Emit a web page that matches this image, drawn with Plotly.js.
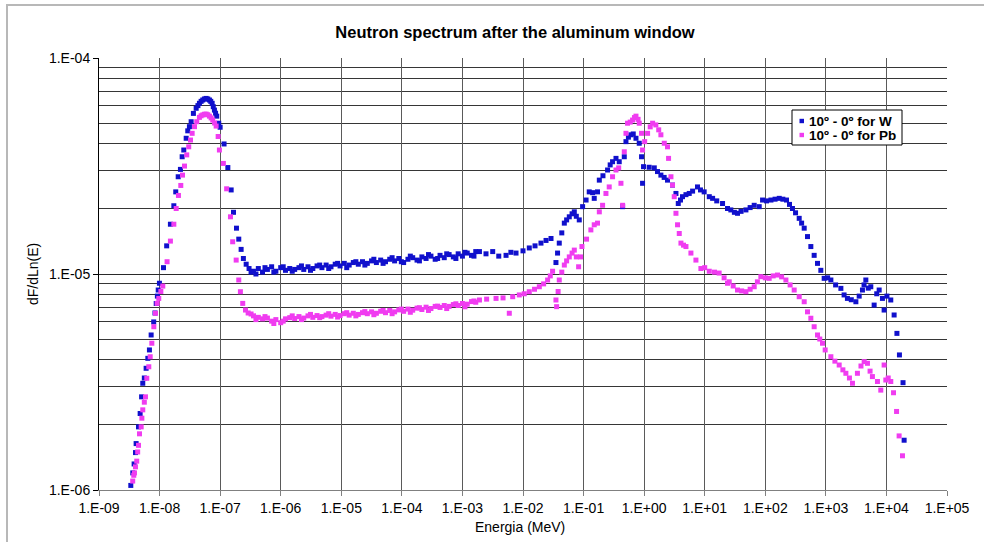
<!DOCTYPE html>
<html><head><meta charset="utf-8">
<script src="https://cdn.plot.ly/plotly-3.0.1.min.js"></script>
<style>
html,body{margin:0;padding:0;background:#fff;overflow:hidden;}
#frame{position:absolute;left:6px;top:4px;width:1200px;height:800px;border-left:2px solid #b8b8b8;border-top:2px solid #b8b8b8;}
#chart{position:absolute;left:0;top:0;width:984px;height:542px;}
</style></head><body>
<div id="frame"></div><div id="chart"></div>
<script>
// ---- tick labels ----
const xTickVals = [1e-9,1e-8,1e-7,1e-6,1e-5,1e-4,1e-3,1e-2,1e-1,1e0,1e1,1e2,1e3,1e4,1e5];
const xTickText = ['1.E-09','1.E-08','1.E-07','1.E-06','1.E-05','1.E-04','1.E-03','1.E-02','1.E-01','1.E+00','1.E+01','1.E+02','1.E+03','1.E+04','1.E+05'];
const yTickVals = [1e-6,1e-5,1e-4];
const yTickText = ['1.E-06','1.E-05','1.E-04'];
const yMinorVals = [2e-6,3e-6,4e-6,5e-6,6e-6,7e-6,8e-6,9e-6,2e-5,3e-5,4e-5,5e-5,6e-5,7e-5,8e-5,9e-5];

// ---- series: 10º - 0º for W ----
const wEnergy = [
3.35e-9,3.61e-9,3.80e-9,4.00e-9,4.10e-9,4.49e-9,4.78e-9,5.05e-9,5.28e-9,5.60e-9,6.00e-9,6.40e-9,6.80e-9,7.26e-9,8.00e-9,8.40e-9,8.80e-9,9.20e-9,9.50e-9,9.95e-9,
1.16e-8,1.31e-8,1.51e-8,1.72e-8,1.85e-8,2.03e-8,2.21e-8,2.36e-8,2.51e-8,2.75e-8,2.92e-8,3.11e-8,3.32e-8,3.62e-8,4.02e-8,4.30e-8,4.55e-8,4.85e-8,5.16e-8,5.50e-8,5.87e-8,6.25e-8,6.66e-8,7.00e-8,7.38e-8,7.70e-8,8.05e-8,8.40e-8,8.79e-8,9.48e-8,
1.00e-7,1.16e-7,1.34e-7,1.52e-7,1.66e-7,1.86e-7,2.03e-7,2.22e-7,2.42e-7,2.69e-7,3.00e-7,3.24e-7,
3.55e-7,4.27e-7,5.01e-7,6.03e-7,7.08e-7,8.32e-7,1.00e-6,1.20e-6,1.41e-6,1.70e-6,2.00e-6,2.40e-6,2.82e-6,3.39e-6,3.98e-6,4.79e-6,5.62e-6,6.76e-6,7.94e-6,9.55e-6,
1.12e-5,1.35e-5,1.58e-5,1.91e-5,2.24e-5,2.69e-5,3.16e-5,3.80e-5,4.47e-5,5.37e-5,6.31e-5,7.59e-5,8.91e-5,1.07e-4,1.26e-4,1.51e-4,1.78e-4,2.14e-4,2.51e-4,3.02e-4,
3.55e-4,4.27e-4,5.01e-4,6.03e-4,7.08e-4,8.51e-4,1.00e-3,1.20e-3,1.41e-3,1.66e-3,
1.91e-3,2.45e-3,3.16e-3,3.98e-3,5.25e-3,6.31e-3,7.67e-3,1.00e-2,1.27e-2,1.58e-2,1.98e-2,2.40e-2,2.90e-2,3.50e-2,3.72e-2,3.97e-2,4.37e-2,4.81e-2,5.25e-2,5.81e-2,
6.46e-2,7.03e-2,7.59e-2,8.49e-2,9.64e-2,0.110,0.124,0.141,0.150,0.170,0.182,0.209,0.249,0.275,0.301,0.343,0.388,0.441,0.470,0.501,
0.550,0.605,0.661,0.733,0.830,0.906,0.942,0.977,1.21,1.47,1.66,1.89,2.14,2.43,2.94,3.35,3.66,3.98,4.30,4.90,
5.55,6.31,7.60,8.51,9.79,11.9,13.5,15.8,19.7,23.8,27.0,30.9,34.8,39.8,47.9,56.2,65.6,79.4,90.2,105,
124,145,170,195,224,251,281,316,363,398,439,498,565,641,728,826,938,1070,1210,1450,
1770,2000,2270,2630,3130,3550,4020,4270,4570,5010,5520,6270,6920,7590,8590,9160,10200,11800,13400,14900,
16400,18800,19600,
3.9e-7,5.5e-7,7.7e-7,1.1e-6,1.55e-6,2.2e-6,3.1e-6,4.4e-6,6.2e-6,8.7e-6,1.23e-5,1.74e-5,2.45e-5,3.45e-5,4.9e-5,6.9e-5,9.8e-5,1.38e-4,1.95e-4,2.75e-4,
3.9e-4,5.5e-4,7.8e-4,1.1e-3,1.55e-3];
const wFlux = [
1.05e-6,1.20e-6,1.32e-6,1.49e-6,1.64e-6,1.96e-6,2.26e-6,2.70e-6,3.12e-6,3.30e-6,3.66e-6,4.07e-6,4.45e-6,5.22e-6,6.00e-6,6.60e-6,7.30e-6,7.90e-6,8.43e-6,9.06e-6,
1.07e-5,1.35e-5,1.70e-5,2.07e-5,2.40e-5,2.82e-5,3.05e-5,3.49e-5,3.75e-5,4.25e-5,4.60e-5,4.81e-5,5.07e-5,5.54e-5,5.85e-5,6.02e-5,6.17e-5,6.30e-5,6.39e-5,6.46e-5,6.50e-5,6.46e-5,6.39e-5,6.30e-5,6.17e-5,5.95e-5,5.74e-5,5.55e-5,5.38e-5,4.99e-5,
4.78e-5,4.00e-5,3.11e-5,2.45e-5,1.93e-5,1.63e-5,1.45e-5,1.30e-5,1.18e-5,1.11e-5,1.06e-5,1.02e-5,
1.03e-5,1.06e-5,1.02e-5,1.05e-5,1.08e-5,1.03e-5,1.07e-5,1.04e-5,1.06e-5,1.05e-5,1.07e-5,1.05e-5,1.08e-5,1.06e-5,1.09e-5,1.07e-5,1.10e-5,1.08e-5,1.11e-5,1.09e-5,
1.12e-5,1.10e-5,1.13e-5,1.11e-5,1.14e-5,1.12e-5,1.15e-5,1.13e-5,1.16e-5,1.14e-5,1.17e-5,1.15e-5,1.18e-5,1.13e-5,1.17e-5,1.19e-5,1.16e-5,1.20e-5,1.18e-5,1.21e-5,
1.17e-5,1.22e-5,1.19e-5,1.23e-5,1.20e-5,1.24e-5,1.21e-5,1.25e-5,1.22e-5,1.27e-5,
1.27e-5,1.24e-5,1.27e-5,1.21e-5,1.22e-5,1.26e-5,1.25e-5,1.28e-5,1.32e-5,1.35e-5,1.39e-5,1.43e-5,1.46e-5,1.13e-5,1.25e-5,1.39e-5,1.55e-5,1.72e-5,1.78e-5,1.84e-5,
1.90e-5,1.94e-5,1.85e-5,1.78e-5,2.05e-5,2.20e-5,2.40e-5,2.38e-5,2.24e-5,2.40e-5,2.72e-5,2.85e-5,3.03e-5,3.20e-5,3.31e-5,3.43e-5,3.31e-5,2.05e-5,3.49e-5,4.10e-5,
4.30e-5,4.41e-5,4.45e-5,4.25e-5,4.03e-5,3.49e-5,2.63e-5,3.14e-5,3.12e-5,3.10e-5,2.98e-5,2.87e-5,2.80e-5,2.72e-5,2.58e-5,2.36e-5,2.12e-5,2.20e-5,2.28e-5,2.33e-5,
2.36e-5,2.42e-5,2.53e-5,2.45e-5,2.40e-5,2.28e-5,2.24e-5,2.18e-5,2.12e-5,2.01e-5,1.98e-5,1.93e-5,1.91e-5,1.95e-5,1.98e-5,2.03e-5,2.08e-5,2.05e-5,2.20e-5,2.18e-5,
2.20e-5,2.22e-5,2.24e-5,2.22e-5,2.20e-5,2.10e-5,2.01e-5,1.92e-5,1.81e-5,1.72e-5,1.63e-5,1.49e-5,1.34e-5,1.22e-5,1.12e-5,1.04e-5,9.55e-6,9.60e-6,9.38e-6,8.90e-6,
8.58e-6,8.00e-6,7.71e-6,7.60e-6,7.44e-6,7.90e-6,8.43e-6,8.90e-6,9.38e-6,8.60e-6,8.73e-6,7.18e-6,8.10e-6,8.43e-6,7.71e-6,6.81e-6,7.90e-6,7.58e-6,6.46e-6,5.31e-6,
4.22e-6,3.14e-6,1.70e-6,
1.00e-5,1.07e-5,1.02e-5,1.08e-5,1.03e-5,1.09e-5,1.04e-5,1.10e-5,1.06e-5,1.12e-5,1.07e-5,1.14e-5,1.10e-5,1.17e-5,1.12e-5,1.19e-5,1.14e-5,1.21e-5,1.15e-5,1.23e-5,
1.18e-5,1.24e-5,1.18e-5,1.26e-5,1.21e-5];

// ---- series: 10º - 0º for Pb ----
const pbEnergy = [
3.60e-9,3.75e-9,3.85e-9,4.00e-9,4.20e-9,4.35e-9,4.49e-9,4.66e-9,4.97e-9,5.10e-9,5.28e-9,5.60e-9,5.85e-9,6.15e-9,6.64e-9,7.00e-9,7.45e-9,8.04e-9,8.56e-9,9.12e-9,
9.70e-9,1.05e-8,1.13e-8,1.33e-8,1.51e-8,1.72e-8,1.88e-8,2.05e-8,2.24e-8,2.39e-8,2.58e-8,2.81e-8,3.03e-8,3.24e-8,3.45e-8,3.77e-8,4.11e-8,4.55e-8,4.85e-8,5.16e-8,
5.50e-8,5.87e-8,6.25e-8,6.66e-8,7.10e-8,7.55e-8,8.10e-8,8.59e-8,9.27e-8,9.73e-8,1.13e-7,1.28e-7,1.48e-7,1.61e-7,1.84e-7,2.03e-7,2.16e-7,2.36e-7,2.62e-7,2.90e-7,
3.24e-7,
3.55e-7,4.27e-7,5.01e-7,6.03e-7,7.08e-7,8.32e-7,1.00e-6,1.20e-6,1.41e-6,1.70e-6,2.00e-6,2.40e-6,2.82e-6,3.39e-6,3.98e-6,4.79e-6,5.62e-6,6.76e-6,7.94e-6,9.55e-6,
1.12e-5,1.35e-5,1.58e-5,1.91e-5,2.24e-5,2.69e-5,3.16e-5,3.80e-5,4.47e-5,5.37e-5,6.31e-5,7.59e-5,8.91e-5,1.07e-4,1.26e-4,1.51e-4,1.78e-4,2.14e-4,2.51e-4,3.02e-4,
3.55e-4,4.27e-4,5.01e-4,6.03e-4,7.08e-4,8.51e-4,1.00e-3,1.20e-3,1.41e-3,1.66e-3,
1.91e-3,2.51e-3,3.59e-3,4.68e-3,5.94e-3,6.76e-3,8.69e-3,1.05e-2,1.27e-2,1.55e-2,1.86e-2,2.19e-2,2.55e-2,2.82e-2,3.08e-2,3.50e-2,3.59e-2,3.80e-2,3.97e-2,4.37e-2,
4.81e-2,5.25e-2,5.81e-2,6.46e-2,7.03e-2,7.59e-2,8.28e-2,8.91e-2,9.40e-2,0.112,0.132,0.150,0.170,0.182,0.206,0.234,0.265,0.301,0.343,0.380,
0.414,0.441,0.470,0.501,0.532,0.589,0.644,0.692,0.733,0.794,0.830,0.906,0.942,1.02,1.14,1.26,1.38,1.56,1.74,1.89,
2.15,2.43,2.53,2.77,2.94,3.14,3.35,3.56,3.80,4.05,4.47,4.90,5.92,7.16,8.65,10.0,11.9,14.5,17.3,20.9,
23.8,25.4,29.5,34.8,40.7,47.9,56.2,65.6,74.1,84.5,100,116,135,159,186,219,257,300,363,439,
498,565,641,728,794,881,975,1210,1410,1660,1910,2140,2450,2750,3320,3800,4290,4860,5370,5870,
7110,8070,9160,9770,10700,11800,13100,14700,16200,18400,
3.9e-7,5.5e-7,7.7e-7,1.1e-6,1.55e-6,2.2e-6,3.1e-6,4.4e-6,6.2e-6,8.7e-6,1.23e-5,1.74e-5,2.45e-5,3.45e-5,4.9e-5,6.9e-5,9.8e-5,1.38e-4,1.95e-4,2.75e-4,
3.9e-4,5.5e-4,7.8e-4,1.1e-3,1.55e-3];
const pbFlux = [
1.10e-6,1.17e-6,1.20e-6,1.28e-6,1.36e-6,1.50e-6,1.61e-6,1.82e-6,1.96e-6,2.15e-6,2.35e-6,2.55e-6,2.70e-6,3.29e-6,3.72e-6,4.14e-6,4.78e-6,5.70e-6,6.58e-6,7.31e-6,
7.71e-6,8.30e-6,8.79e-6,1.14e-5,1.42e-5,1.70e-5,2.01e-5,2.31e-5,2.57e-5,2.87e-5,3.16e-5,3.56e-5,3.88e-5,4.17e-5,4.48e-5,4.81e-5,5.07e-5,5.31e-5,5.40e-5,5.45e-5,
5.49e-5,5.50e-5,5.46e-5,5.38e-5,5.28e-5,5.16e-5,5.00e-5,4.84e-5,4.33e-5,3.75e-5,3.25e-5,2.48e-5,1.84e-5,1.41e-5,1.16e-5,9.38e-6,8.28e-6,7.31e-6,6.81e-6,6.60e-6,
6.53e-6,
6.40e-6,6.30e-6,6.20e-6,6.25e-6,6.05e-6,6.15e-6,5.95e-6,6.20e-6,6.28e-6,6.22e-6,6.35e-6,6.25e-6,6.40e-6,6.30e-6,6.42e-6,6.35e-6,6.45e-6,6.38e-6,6.50e-6,6.42e-6,
6.55e-6,6.45e-6,6.58e-6,6.50e-6,6.62e-6,6.55e-6,6.68e-6,6.58e-6,6.72e-6,6.62e-6,6.78e-6,6.68e-6,6.82e-6,6.72e-6,6.88e-6,6.80e-6,6.95e-6,6.85e-6,7.02e-6,6.92e-6,
7.08e-6,7.00e-6,7.15e-6,7.08e-6,7.22e-6,7.15e-6,7.30e-6,7.25e-6,7.45e-6,7.40e-6,
7.58e-6,7.65e-6,7.71e-6,7.75e-6,6.58e-6,7.85e-6,8.00e-6,8.10e-6,8.28e-6,8.50e-6,8.73e-6,9.00e-6,9.38e-6,9.80e-6,1.03e-5,7.58e-6,7.06e-6,8.30e-6,9.38e-6,1.02e-5,
1.10e-5,1.15e-5,1.20e-5,1.25e-5,1.29e-5,1.20e-5,1.08e-5,1.20e-5,1.34e-5,1.45e-5,1.60e-5,1.69e-5,1.72e-5,1.94e-5,2.08e-5,2.36e-5,2.53e-5,2.82e-5,3.03e-5,3.10e-5,
2.63e-5,2.08e-5,3.68e-5,4.48e-5,4.99e-5,5.05e-5,5.16e-5,5.30e-5,5.38e-5,5.20e-5,4.99e-5,4.48e-5,3.75e-5,4.10e-5,4.48e-5,4.80e-5,4.99e-5,4.90e-5,4.65e-5,4.41e-5,
4.03e-5,3.88e-5,3.43e-5,2.82e-5,2.58e-5,2.28e-5,1.91e-5,1.69e-5,1.54e-5,1.39e-5,1.36e-5,1.34e-5,1.25e-5,1.16e-5,1.06e-5,1.07e-5,1.03e-5,1.02e-5,1.01e-5,9.60e-6,
9.06e-6,9.20e-6,8.80e-6,8.43e-6,8.35e-6,8.28e-6,8.50e-6,8.73e-6,9.20e-6,9.72e-6,9.60e-6,9.55e-6,9.80e-6,9.89e-6,9.70e-6,9.38e-6,8.90e-6,8.43e-6,7.85e-6,7.44e-6,
6.68e-6,6.24e-6,5.70e-6,5.22e-6,5.00e-6,4.78e-6,4.45e-6,4.14e-6,3.95e-6,3.79e-6,3.60e-6,3.47e-6,3.30e-6,3.12e-6,3.47e-6,3.75e-6,3.93e-6,3.86e-6,3.55e-6,3.35e-6,
3.18e-6,2.90e-6,3.79e-6,3.23e-6,3.30e-6,3.18e-6,2.82e-6,2.31e-6,1.78e-6,1.44e-6,
6.15e-6,6.35e-6,5.90e-6,6.05e-6,6.40e-6,6.15e-6,6.50e-6,6.28e-6,6.55e-6,6.32e-6,6.62e-6,6.40e-6,6.70e-6,6.48e-6,6.78e-6,6.55e-6,6.88e-6,6.65e-6,6.98e-6,6.78e-6,
7.10e-6,6.92e-6,7.28e-6,7.05e-6,7.50e-6];

const seriesNames = ['10º - 0º for W', '10º - 0º for Pb'];
const seriesColors = ['#1010CC', '#F03CF0'];

// ---- layout helpers (pixel -> paper) ----
const W = 984, H = 542, L = 99, R = 37, T = 58, B = 52;
const pw = W - L - R, ph = H - T - B;
const px = x => (x - L) / pw;
const py = y => (H - B - y) / ph;

const FONT = 'Liberation Sans, Arial, sans-serif';

const traces = [
  {x: wEnergy, y: wFlux, name: seriesNames[0], type: 'scatter', mode: 'markers',
   marker: {symbol: 'square', size: 5, color: seriesColors[0]}},
  {x: pbEnergy, y: pbFlux, name: seriesNames[1], type: 'scatter', mode: 'markers',
   marker: {symbol: 'square', size: 5, color: seriesColors[1]}}
];

const legRowY = [121, 135];
const shapes = [
  {type: 'rect', xref: 'paper', yref: 'paper', x0: px(792), x1: px(902), y0: py(145), y1: py(110),
   fillcolor: '#ffffff', line: {color: '#000000', width: 1}, layer: 'above'}
];
const annotations = [
  {text: 'dF/dLn(E)', xref: 'paper', yref: 'paper', x: px(33), y: py(274), textangle: -90,
   showarrow: false, xanchor: 'center', yanchor: 'middle', font: {family: FONT, size: 14, color: '#000'}},
  {text: 'Energia (MeV)', xref: 'paper', yref: 'paper', x: px(520), y: py(527),
   showarrow: false, xanchor: 'center', yanchor: 'middle', font: {family: FONT, size: 14, color: '#000'}}
];
seriesNames.forEach((n, i) => {
  shapes.push({type: 'rect', xref: 'paper', yref: 'paper', layer: 'above',
    x0: px(799.5), x1: px(804), y0: py(legRowY[i] + 2.2), y1: py(legRowY[i] - 2.2),
    fillcolor: seriesColors[i], line: {width: 0}});
  annotations.push({text: '<b>' + n + '</b>', xref: 'paper', yref: 'paper', x: px(807), y: py(legRowY[i]),
    showarrow: false, xanchor: 'left', yanchor: 'middle', font: {family: FONT, size: 13.5, color: '#000'}});
});

const layout = {
  width: W, height: H,
  margin: {l: L, r: R, t: T, b: B, pad: 0},
  paper_bgcolor: 'rgba(0,0,0,0)', plot_bgcolor: '#ffffff',
  showlegend: false,
  title: {text: '<b>Neutron spectrum after the aluminum window</b>', font: {family: FONT, size: 16.5, color: '#000'},
          xref: 'container', yref: 'container', x: 515 / W, xanchor: 'center', y: 1 - 32 / H, yanchor: 'middle'},
  xaxis: {type: 'log', range: [-9, 5], tickmode: 'array', tickvals: xTickVals, ticktext: xTickText,
          ticks: 'outside', ticklen: 5, tickcolor: '#808080', tickwidth: 1,
          showgrid: true, gridcolor: '#5a5a5a', gridwidth: 1,
          showline: true, linecolor: '#808080', linewidth: 1, zeroline: false,
          tickfont: {family: FONT, size: 14, color: '#000'}},
  yaxis: {type: 'log', range: [-6, -4], tickmode: 'array', tickvals: yTickVals, ticktext: yTickText,
          ticks: 'outside', ticklen: 5, tickcolor: '#000', tickwidth: 1,
          showgrid: true, gridcolor: '#2a2a2a', gridwidth: 1,
          showline: true, linecolor: '#000', linewidth: 1, zeroline: false,
          minor: {tickmode: 'array', tickvals: yMinorVals, showgrid: true, gridcolor: '#363636', gridwidth: 1, ticks: ''},
          tickfont: {family: FONT, size: 14, color: '#000'}},
  shapes: shapes,
  annotations: annotations
};

Plotly.newPlot('chart', traces, layout, {displayModeBar: false, staticPlot: true});
</script></body></html>
